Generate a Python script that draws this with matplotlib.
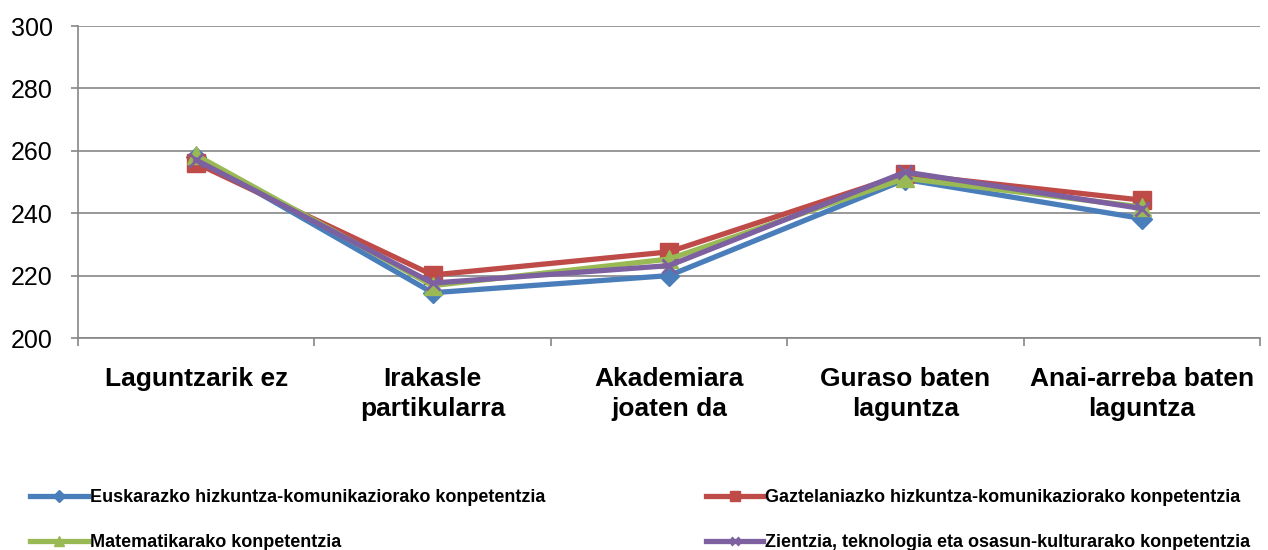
import numpy as np
import matplotlib.pyplot as plt

plt.rcParams['font.family'] = ['Liberation Sans', 'DejaVu Sans']

# categories and series values
categories = ["Laguntzarik ez", "Irakasle\npartikularra", "Akademiara\njoaten da",
              "Guraso baten\nlaguntza", "Anai-arreba baten\nlaguntza"]
euskara = [258.0, 214.5, 220.0, 250.8, 238.3]
gaztelania = [256.0, 220.2, 227.6, 252.5, 244.2]
matematika = [258.6, 216.8, 225.3, 251.2, 242.0]
zientzia = [257.0, 217.6, 223.2, 253.2, 241.5]
labels = ["Euskarazko hizkuntza-komunikaziorako konpetentzia",
          "Gaztelaniazko hizkuntza-komunikaziorako konpetentzia",
          "Matematikarako konpetentzia",
          "Zientzia, teknologia eta osasun-kulturarako konpetentzia"]

fig = plt.figure(figsize=(12.68, 5.5), dpi=100)
ax = fig.add_axes([78/1268, 1-338/550, (1260-78)/1268, (338-26)/550])

x = np.arange(len(categories))
lw = 3.8
h1, = ax.plot(x, euskara, color='#4A7EBB', lw=lw, marker='D', ms=10, zorder=3)
h2, = ax.plot(x, gaztelania, color='#BE4B48', lw=lw, marker='s', ms=13, zorder=4)
h3, = ax.plot(x, matematika, color='#98B954', lw=lw, marker='^', ms=13, zorder=5)
h4, = ax.plot(x, zientzia, color='#7D60A0', lw=lw, marker='x', ms=10, mew=2, zorder=6)

ax.set_xlim(-0.5, len(categories) - 0.5)
ax.set_ylim(200, 300)
ax.set_yticks(np.arange(200, 301, 20))
ax.yaxis.grid(True, color='#868686', lw=1.2)
ax.set_axisbelow(True)
for s in ['top', 'right']:
    ax.spines[s].set_visible(False)
ax.spines['left'].set_color('#868686')
ax.spines['bottom'].set_color('#868686')
ax.spines['left'].set_linewidth(1.2)
ax.spines['bottom'].set_linewidth(1.2)

ax.tick_params(axis='y', labelsize=18, length=5, color='#868686', width=1.2, pad=13)
ax.set_xticks(x)
ax.set_xticklabels(categories, fontsize=19, fontweight='bold', linespacing=1.3)
ax.tick_params(axis='x', which='major', length=0, pad=21)
ax.set_xticks(np.arange(-0.5, len(categories)), minor=True)
ax.tick_params(axis='x', which='minor', length=6, color='#868686', width=1.2)

fig.legend([h1, h3, h2, h4], [labels[0], labels[2], labels[1], labels[3]],
           ncol=2, loc='upper left', bbox_to_anchor=(30/1268, 1-489/550),
           frameon=False, borderpad=0, borderaxespad=0,
           prop={'size': 13, 'weight': 'bold'},
           handlelength=3.2, handletextpad=0.1, columnspacing=8.9,
           labelspacing=1.55, markerscale=0.6)

fig.savefig('out.png', dpi=100)
